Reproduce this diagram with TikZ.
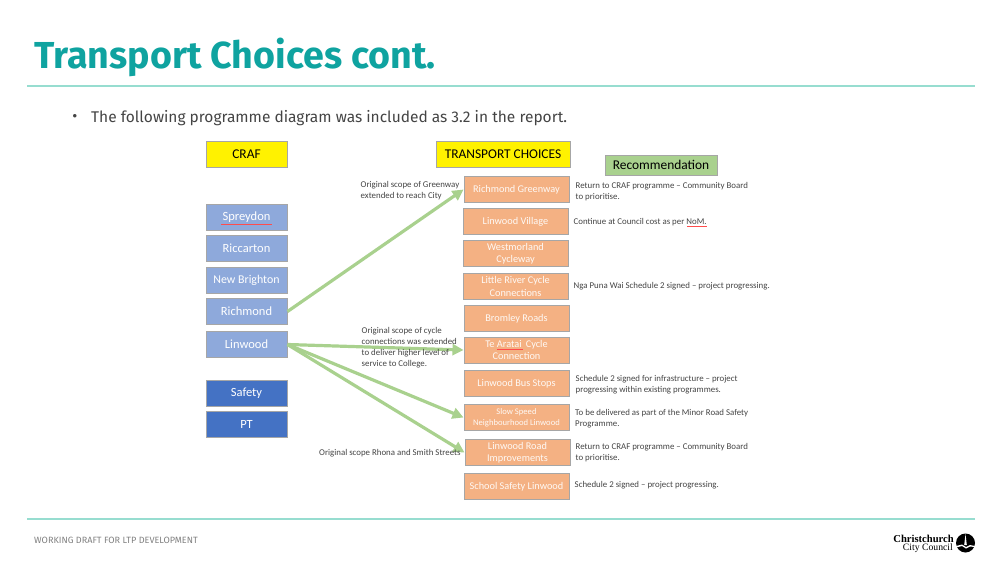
\documentclass[tikz,border=0pt]{standalone}
\usepackage{fontspec}
\setmainfont{Carlito}
\newfontfamily\slidefont{Fira Sans}
\newfontfamily\logofont{Liberation Serif}
\usetikzlibrary{arrows.meta}
\definecolor{tealtitle}{HTML}{0FA3A0}
\definecolor{tealrule}{HTML}{97DDD0}
\definecolor{lightblue}{HTML}{8EA9DB}
\definecolor{darkblue}{HTML}{4472C4}
\definecolor{orangebox}{HTML}{F4B183}
\definecolor{greenbox}{HTML}{A9D18E}
\definecolor{bodygray}{HTML}{444444}
\tikzset{
  box/.style={draw=gray!70,line width=1pt,minimum width=#1,minimum height=26pt,inner sep=0pt,align=center,text=white,font=\fontsize{12.5}{14}\selectfont},
  box/.default=81pt,
  craf/.style={box,fill=lightblue},
  fund/.style={box,fill=darkblue},
  head/.style={box,fill=yellow,text=black,font=\fontsize{13.4}{15}\selectfont},
  project/.style={box=105pt,fill=orangebox,text=white!92!orangebox,font=\fontsize{10.3}{12.3}\selectfont},
  note/.style={anchor=north west,inner sep=0pt,yshift=-1pt,align=left,text=bodygray,font=\fontsize{8.85}{10.8}\selectfont},
  link/.style={draw=greenbox,line width=3.2pt,-{Triangle[length=11pt,width=11pt]}},
  spell/.style={red!70,line width=0.5pt},
}
\begin{document}
\begin{tikzpicture}[x=1pt,y=-1pt]
  \useasboundingbox (0,0) rectangle (1003,565);
  % slide frame
  \node[anchor=west,inner sep=0pt,text=tealtitle,font=\slidefont\bfseries\fontsize{37.6}{40}\selectfont] (title) at (34,57) {Transport Choices cont.};
  \draw[color=tealrule,line width=1.3pt] (27,86)--(975,86);
  \draw[color=tealrule,line width=1.3pt] (27,519)--(975,519);
  \node[anchor=center,inner sep=0pt,text=bodygray,font=\slidefont\fontsize{15.5}{18}\selectfont] (bullet) at (75,118) {•};
  \node[anchor=west,inner sep=0pt,text=bodygray,font=\slidefont\fontsize{15.5}{18}\selectfont] (intro) at (91,118) {The following programme diagram was included as 3.2 in the report.};
  \node[anchor=west,inner sep=0pt,text=gray,font=\slidefont\fontsize{9.1}{10}\selectfont] (footer) at (34,540) {WORKING DRAFT FOR LTP DEVELOPMENT};
  % headings
  \node[head] (crafhead) at (246.5,154.5) {CRAF};
  \node[head,minimum width=134pt] (tchead) at (503,154.5) {TRANSPORT CHOICES};
  \node[box=112pt,fill=greenbox,text=black,minimum height=20pt,font=\fontsize{13.4}{15}\selectfont] (rechead) at (661,165) {Recommendation};
  % CRAF column
  \node[craf] (spreydon) at (246.5,217.5) {Spreydon};
  \node[craf] (riccarton) at (246.5,248) {Riccarton};
  \node[craf,font=\fontsize{11.9}{14}\selectfont] (brighton) at (246.5,280) {New Brighton};
  \node[craf] (richmond) at (246.5,311.5) {Richmond};
  \node[craf] (linwood) at (246.5,344.5) {Linwood};
  \node[fund] (safety) at (246.5,393.5) {Safety};
  \node[fund] (pt) at (246.5,424.5) {PT};
  % projects
  \node[project] (greenway) at (516.5,189.5) {Richmond Greenway};
  \node[project] (village) at (515.5,221.5) {Linwood Village};
  \node[project] (westmorland) at (515.5,253.5) {Westmorland\\Cycleway};
  \node[project] (river) at (515.5,286.5) {Little River Cycle\\Connections};
  \node[project] (bromley) at (516.5,318.5) {Bromley Roads};
  \node[project] (aratai) at (516.5,350) {Te Aratai\, Cycle\\Connection};
  \node[project] (busstops) at (516.5,383.5) {Linwood Bus Stops};
  \node[project,font=\fontsize{8.6}{10.8}\selectfont] (slowspeed) at (516.5,417.5) {Slow Speed\\Neighbourhood Linwood};
  \node[project] (roadimp) at (517.5,452.5) {Linwood Road\\Improvements};
  \node[project] (school) at (516.5,486.5) {School Safety Linwood};
  % arrows
  \draw[link] (richmond.east)--(greenway.west);
  \draw[link] (linwood.east)--(aratai.west);
  \draw[link] (linwood.east)--(slowspeed.west);
  \draw[link] (linwood.east)--(roadimp.west);
  % notes on the scope
  \node[note] (scopea) at (360.5,180.5) {Original scope of Greenway\\extended to reach City};
  \node[note] (scopeb) at (361.5,326.5) {Original scope of cycle\\connections was extended\\to deliver higher level of\\service to College.};
  \node[note] (scopec) at (319,448.5) {Original scope Rhona and Smith Streets};
  % recommendations
  \node[note] (reca) at (575.5,181) {Return to CRAF programme -- Community Board\\to prioritise.};
  \node[note] (recb) at (573.5,217) {Continue at Council cost as per NoM.};
  \node[note] (recc) at (573.5,281) {Nga Puna Wai Schedule 2 signed -- project progressing.};
  \node[note] (recd) at (575.5,374.5) {Schedule 2 signed for infrastructure -- project\\progressing within existing programmes.};
  \node[note] (rece) at (575,408.5) {To be delivered as part of the Minor Road Safety\\Programme.};
  \node[note] (recf) at (575.5,442) {Return to CRAF programme -- Community Board\\to prioritise.};
  \node[note] (recg) at (574.5,480.5) {Schedule 2 signed -- project progressing.};
  % spell check marks
  \draw[spell] (221,224)--(272,224);
  \draw[spell] (687,226)--(707,226);
  \draw[spell] (497,349)--(523,349);
  % logo
  \node[anchor=east,inner sep=0pt,font=\logofont\bfseries\fontsize{10.6}{12}\selectfont] (logoa) at (954,538.5) {Christchurch};
  \node[anchor=east,inner sep=0pt,font=\logofont\fontsize{9.7}{11}\selectfont] (logob) at (953,548.5) {City Council};
  \fill[black] (965.5,543) circle (9.5pt);
  \fill[white] (965.5,534)--(966.8,545)--(964.2,545)--cycle;
  \fill[white] (956,546)--(962,544.5)--(966,547)--(970,545)--(975,546)--(975,547)--(970,546.5)--(966,548.5)--(962,546)--(956,547.5)--cycle;
\end{tikzpicture}
\end{document}
